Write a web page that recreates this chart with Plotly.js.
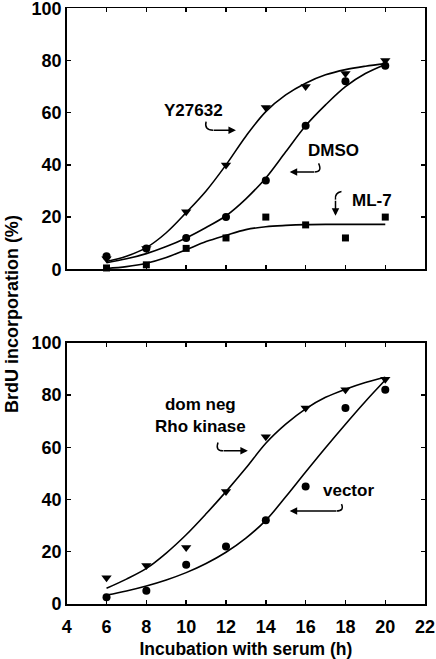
<!DOCTYPE html>
<html>
<head>
<meta charset="utf-8">
<script src="https://cdn.plot.ly/plotly-3.0.1.min.js"></script>
<style>html,body{margin:0;padding:0;background:#fff;}#chart{width:436px;height:659px;}</style>
</head>
<body>
<div id="chart"></div>
<script>
// ---- Data ----
const hours = [6, 8, 10, 12, 14, 16, 18, 20];

// Top panel: measured points
const y27632 = [4, 8, 22, 40, 62, 70, 75, 80];
const dmso   = [5, 8, 12, 20, 34, 55, 72, 78];
const ml7    = [0.5, 1.7, 8, 12, 20, 17, 12, 20];

// Top panel: fitted curves
const fitX = [6, 7, 8, 9, 10, 11, 12, 13, 14, 15, 16, 17, 18, 19, 20];
const y27632Fit = [3, 5, 8.3, 14, 21.7, 30, 40, 51, 60.4, 66.8, 71.3, 74.5, 76.5, 77.8, 78.8];
const dmsoFit   = [2.5, 4, 6, 8.7, 12, 16, 20.5, 27, 35, 45, 55, 63, 70, 75, 78.5];
const ml7Fit    = [0.3, 1, 2.3, 4.5, 7.5, 10.6, 13, 15.2, 16.3, 16.8, 17.1, 17.2, 17.2, 17.2, 17.2];

// Bottom panel: measured points
const domNeg = [10, 14.7, 21.6, 43, 64, 75, 82, 86];
const vector = [2.6, 5.1, 15, 22, 32, 45, 75, 82];

// Bottom panel: fitted curves
const domNegFit = [6, 9.5, 13.6, 19.5, 26.5, 34.5, 43, 52, 61.5, 68.8, 74.7, 79.1, 82.2, 84.8, 86.8];
const vectorFit = [3.4, 5, 6.9, 9.2, 12, 15.5, 19.8, 25.2, 32, 41, 50.5, 59.8, 68.8, 77.5, 85.7];

// Axis ticks
const xTicks = [4, 6, 8, 10, 12, 14, 16, 18, 20, 22];
const yTicks = [0, 20, 40, 60, 80, 100];

// Labels
const labels = {
  y27632: 'Y27632', dmso: 'DMSO', ml7: 'ML-7',
  domNeg: 'dom neg<br>Rho kinase', vector: 'vector',
  xTitle: 'Incubation with serum (h)', yTitle: 'BrdU incorporation (%)'
};

// ---- Plot ----
const FONT = 'Liberation Sans, Arial, Helvetica, sans-serif';
const lineStyle = {color: '#000', width: 1.6, shape: 'spline', smoothing: 1};

function pts(x, y, symbol, xa, ya, size) {
  return {x: x, y: y, mode: 'markers', type: 'scatter', xaxis: xa, yaxis: ya,
    marker: {symbol: symbol, color: '#000', size: size}, showlegend: false, hoverinfo: 'skip', cliponaxis: false};
}
function fit(x, y, xa, ya) {
  return {x: x, y: y, mode: 'lines', type: 'scatter', xaxis: xa, yaxis: ya,
    line: lineStyle, showlegend: false, hoverinfo: 'skip'};
}

const traces = [
  fit(fitX, y27632Fit, 'x', 'y'),
  fit(fitX, dmsoFit, 'x', 'y'),
  fit(fitX, ml7Fit, 'x', 'y'),
  pts(hours, y27632, 'triangle-down', 'x', 'y', 9),
  pts(hours, ml7, 'square', 'x', 'y', 7),
  pts(hours, dmso, 'circle', 'x', 'y', 8),
  fit(fitX, domNegFit, 'x2', 'y2'),
  fit(fitX, vectorFit, 'x2', 'y2'),
  pts(hours, domNeg, 'triangle-down', 'x2', 'y2', 9),
  pts(hours, vector, 'circle', 'x2', 'y2', 8)
];

const axisBase = {
  range: [4, 22], tickvals: xTicks, showline: true, linecolor: '#000', linewidth: 1.6,
  mirror: 'ticks', ticks: 'inside', ticklen: 4, tickwidth: 1.4, tickcolor: '#000',
  showgrid: false, zeroline: false, fixedrange: true, ticklabeloverflow: 'allow',
  tickfont: {family: FONT, size: 18, color: '#000', weight: 'bold'}
};
const yBase = Object.assign({}, axisBase, {range: [0, 100], tickvals: yTicks});

const ann = (text, x, y, xr, yr) => ({text: text, x: x, y: y, xref: xr, yref: yr, showarrow: false,
  font: {family: FONT, size: 17, color: '#000', weight: 'bold'}, align: 'center'});
const arrow = (x, y, ax, ay, xr, yr) => ({text: '', x: x, y: y, ax: ax, ay: ay, xref: xr, yref: yr,
  axref: xr, ayref: yr, showarrow: true, arrowhead: 2, arrowsize: 1, arrowwidth: 1.5, arrowcolor: '#000'});
const hook = (p, xr, yr) => ({type: 'path', path: p, xref: xr, yref: yr, line: {color: '#000', width: 1.5}});

const layout = {
  width: 436, height: 659, margin: {l: 0, r: 0, t: 0, b: 0},
  paper_bgcolor: '#fff', plot_bgcolor: '#fff', showlegend: false,
  xaxis: Object.assign({}, axisBase, {domain: [0.153, 0.975], anchor: 'y', showticklabels: false}),
  yaxis: Object.assign({}, yBase, {domain: [0.5914, 0.9874], anchor: 'x'}),
  xaxis2: Object.assign({}, axisBase, {domain: [0.153, 0.975], anchor: 'y2', ticklabelstandoff: 6,
    title: {text: labels.xTitle, font: {family: FONT, size: 17.5, color: '#000', weight: 'bold'}, standoff: 10}}),
  yaxis2: Object.assign({}, yBase, {domain: [0.0835, 0.48], anchor: 'x2'}),
  annotations: [
    ann(labels.y27632, 10.35, 61, 'x', 'y'),
    ann(labels.dmso, 17.38, 45.7, 'x', 'y'),
    ann(labels.ml7, 19.34, 26.5, 'x', 'y'),
    ann(labels.domNeg, 10.7, 72, 'x2', 'y2'),
    ann(labels.vector, 18.14, 43.6, 'x2', 'y2'),
    arrow(12.5, 53.3, 11.3, 53.3, 'x', 'y'),
    arrow(15.2, 37.3, 16.5, 37.3, 'x', 'y'),
    arrow(17.5, 20.5, 17.5, 26.8, 'x', 'y'),
    arrow(13.1, 58.6, 11.8, 58.6, 'x2', 'y2'),
    arrow(15.2, 35.6, 17.6, 35.6, 'x2', 'y2'),
    {text: labels.yTitle, x: 0.029, y: 0.5228, xref: 'paper', yref: 'paper', xanchor: 'center', yanchor: 'middle',
      showarrow: false, textangle: -90, font: {family: FONT, size: 18, color: '#000', weight: 'bold'}}
  ],
  shapes: [
    hook('M 11.0,56.6 Q 10.9,53.3 11.35,53.3', 'x', 'y'),
    hook('M 16.65,40.6 Q 16.85,37.3 16.45,37.3', 'x', 'y'),
    hook('M 17.8,29.8 Q 17.45,29.3 17.5,26.7', 'x', 'y'),
    hook('M 11.6,61.8 Q 11.45,58.6 11.85,58.6', 'x2', 'y2'),
    hook('M 17.8,38.2 Q 17.95,35.6 17.55,35.6', 'x2', 'y2')
  ]
};

Plotly.newPlot('chart', traces, layout, {staticPlot: true, displayModeBar: false});
</script>
</body>
</html>
